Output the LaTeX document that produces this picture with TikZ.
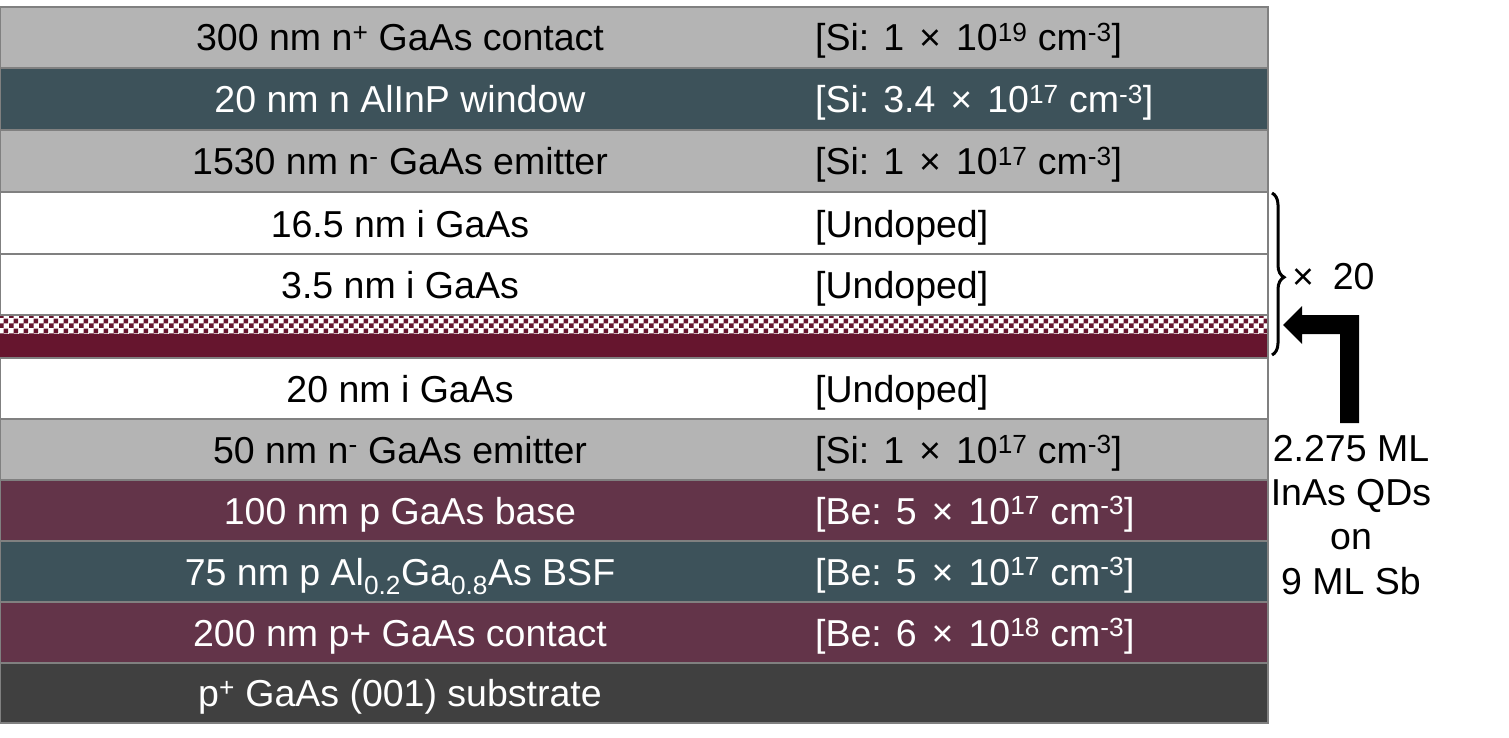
\documentclass[tikz,border=0pt]{standalone}
\usepackage{fontspec}
\setmainfont{Liberation Sans}
\usetikzlibrary{patterns,decorations.pathreplacing}
\pgfdeclarepatternformonly{qdcheck}{\pgfpointorigin}{\pgfqpoint{10pt}{10pt}}{\pgfqpoint{10pt}{10pt}}{%
  \pgfpathrectangle{\pgfpointorigin}{\pgfqpoint{5pt}{5pt}}%
  \pgfpathrectangle{\pgfqpoint{5pt}{5pt}}{\pgfqpoint{5pt}{5pt}}%
  \pgfusepath{fill}}
\definecolor{lgray}{HTML}{B4B4B4}
\definecolor{teal}{HTML}{3D525A}
\definecolor{maroon}{HTML}{633449}
\definecolor{subs}{HTML}{404040}
\definecolor{qd}{HTML}{66152E}
\definecolor{edge}{HTML}{808080}
\newcommand{\tms}{\hspace{0.4em}\texttimes\hspace{0.4em}}
\begin{document}
\begin{tikzpicture}[x=1pt,y=-1pt,
  layer/.style={draw=edge, line width=1.2pt},
  txt/.style={inner sep=0pt, font=\fontsize{37.5}{45}\selectfont},
  lbl/.style={txt, anchor=base},
  dop/.style={txt, anchor=base west},
  wt/.style={text=white},
  bk/.style={text=black}]
\useasboundingbox (0,0) rectangle (1509,738);
% layers
\path[layer, fill=lgray]  (0,7)   rectangle (1268,68);
\path[layer, fill=teal]   (0,68)  rectangle (1268,130);
\path[layer, fill=lgray]  (0,130) rectangle (1268,192);
\path[layer, fill=white]  (0,192) rectangle (1268,254);
\path[layer, fill=white]  (0,254) rectangle (1268,315);
\path[fill=white] (0,315) rectangle (1268,334);
\path[pattern=qdcheck, pattern color=qd] (0,315) rectangle (1268,334);
\path[fill=qd] (0,334) rectangle (1268,358);
\draw[edge, line width=1.2pt] (0,315) -- (1268,315);
\path[layer, fill=white]  (0,358) rectangle (1268,419);
\path[layer, fill=lgray]  (0,419) rectangle (1268,480);
\path[layer, fill=maroon] (0,480) rectangle (1268,541);
\path[layer, fill=teal]   (0,541) rectangle (1268,602);
\path[layer, fill=maroon] (0,602) rectangle (1268,663);
\path[layer, fill=subs]   (0,663) rectangle (1268,723);
\draw[edge, line width=1.2pt] (1268,7) -- (1268,723);
% texts
\node[lbl,bk] (l1) at (400,51) {300 nm n\textsuperscript{+} GaAs contact};
\node[dop,bk] (d1) at (815,51) {[Si: 1\tms 10\textsuperscript{19} cm\textsuperscript{-3}]};
\node[lbl,wt] (l2) at (400,113) {20 nm n AlInP window};
\node[dop,wt] (d2) at (815,113) {[Si: 3.4\tms 10\textsuperscript{17} cm\textsuperscript{-3}]};
\node[lbl,bk] (l3) at (400,175) {1530 nm n\textsuperscript{-} GaAs emitter};
\node[dop,bk] (d3) at (815,175) {[Si: 1\tms 10\textsuperscript{17} cm\textsuperscript{-3}]};
\node[lbl,bk] (l4) at (400,237) {16.5 nm i GaAs};
\node[dop,bk] (d4) at (815,237) {[Undoped]};
\node[lbl,bk] (l5) at (400,298) {3.5 nm i GaAs};
\node[dop,bk] (d5) at (815,298) {[Undoped]};
\node[lbl,bk] (l6) at (400,402) {20 nm i GaAs};
\node[dop,bk] (d6) at (815,402) {[Undoped]};
\node[lbl,bk] (l7) at (400,463) {50 nm n\textsuperscript{-} GaAs emitter};
\node[dop,bk] (d7) at (815,463) {[Si: 1\tms 10\textsuperscript{17} cm\textsuperscript{-3}]};
\node[lbl,wt] (l8) at (400,524) {100 nm p GaAs base};
\node[dop,wt] (d8) at (815,524) {[Be: 5\tms 10\textsuperscript{17} cm\textsuperscript{-3}]};
\node[lbl,wt] (l9) at (400,585) {75 nm p Al\textsubscript{0.2}Ga\textsubscript{0.8}As BSF};
\node[dop,wt] (d9) at (815,585) {[Be: 5\tms 10\textsuperscript{17} cm\textsuperscript{-3}]};
\node[lbl,wt] (l10) at (400,646) {200 nm p+ GaAs contact};
\node[dop,wt] (d10) at (815,646) {[Be: 6\tms 10\textsuperscript{18} cm\textsuperscript{-3}]};
\node[lbl,wt] (l11) at (400,706) {p\textsuperscript{+} GaAs (001) substrate};
% brace
\coordinate (bt) at (1272,193);
\coordinate (bb) at (1272,355);
\draw[line width=3pt, decorate, decoration={brace, amplitude=12pt, aspect=0.52}] (bt) -- (bb);
\node[dop,bk] (x20) at (1292,289) {\texttimes\hspace{0.5em}20};
% arrow
\fill[black] (1359,423) -- (1359,315) -- (1302,315) -- (1302,306) -- (1283,325)
  -- (1302,344) -- (1302,334) -- (1340,334) -- (1340,423) -- cycle;
% QD label
\node[lbl,bk] (q1) at (1351,461) {2.275 ML};
\node[lbl,bk] (q2) at (1351,505) {InAs QDs};
\node[lbl,bk] (q3) at (1351,549) {on};
\node[lbl,bk] (q4) at (1351,594) {9 ML Sb};
\end{tikzpicture}
\end{document}
